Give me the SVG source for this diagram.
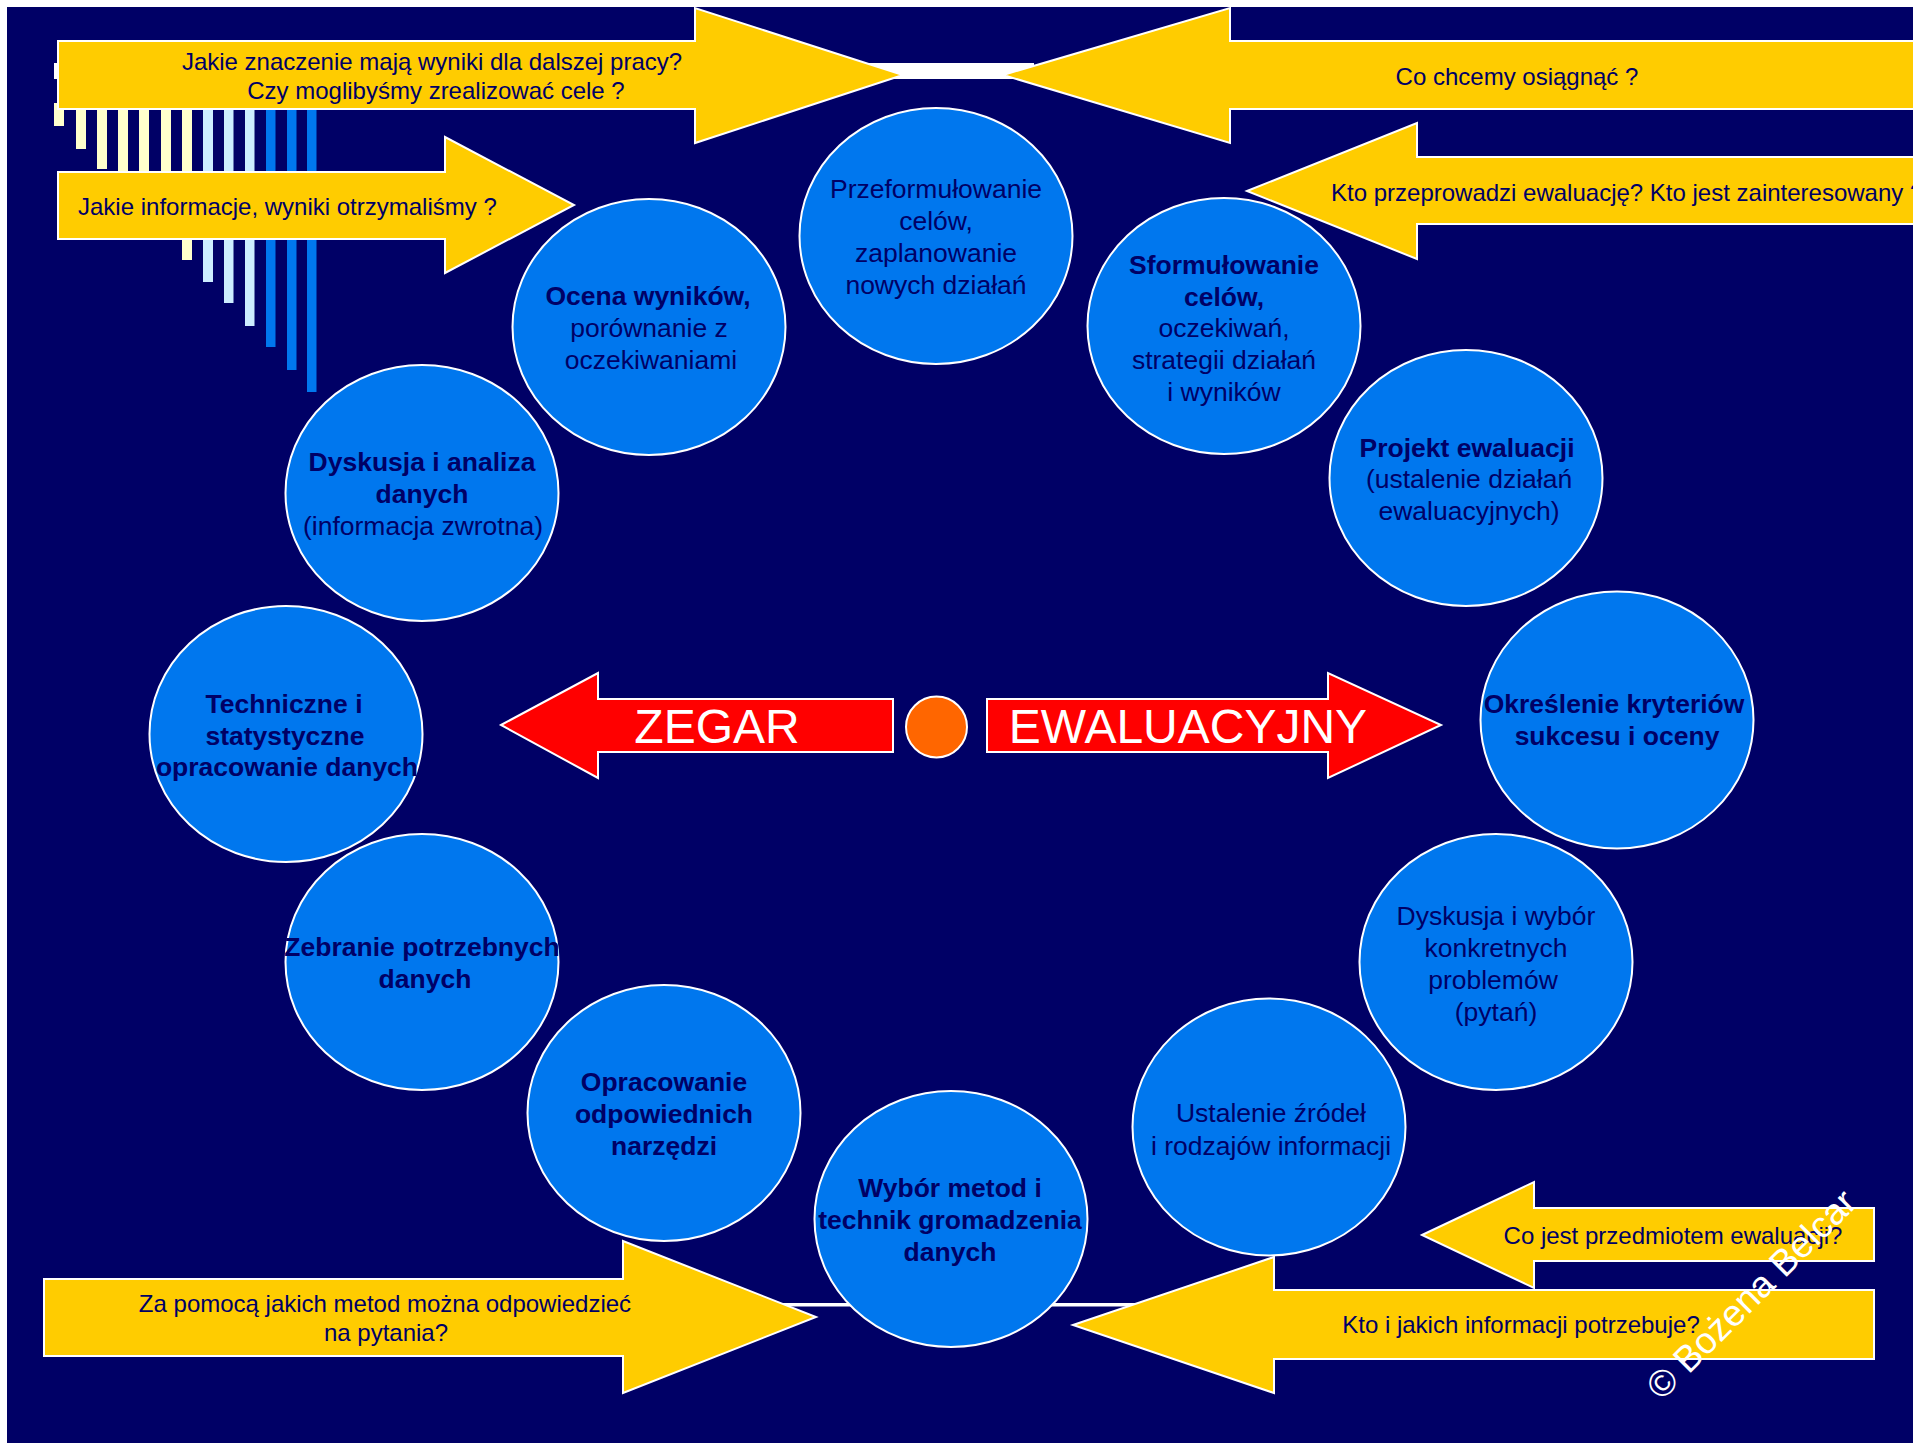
<svg xmlns="http://www.w3.org/2000/svg" width="1913" height="1443" viewBox="0 0 1913 1443">
<style>
.bg{fill:#000066}
.ya{fill:#FFCC00;stroke:#FFFFFF;stroke-width:2;stroke-linejoin:miter}
.ra{fill:#FF0000;stroke:#FFFFFF;stroke-width:2}
.c{fill:#0077EE;stroke:#FFFFFF;stroke-width:2}
.t{font-family:"Liberation Sans",Arial,sans-serif;fill:#000066;text-anchor:middle}
.ct{font-size:26.5px}
.b{font-weight:bold}
.at{font-family:"Liberation Sans",Arial,sans-serif;fill:#000066;font-size:24px}
.rt{font-family:"Liberation Sans",Arial,sans-serif;fill:#FFFFFF;font-size:48px;text-anchor:middle}
.by{fill:#FFFFCC}
.bl{fill:#CCECFF}
.bb{fill:#0077EE}
</style>
<rect x="0" y="0" width="1913" height="1443" fill="#FFFFFF"/>
<rect class="bg" x="7" y="7" width="1906" height="1436"/>

<g id="connectors">
  <rect x="54" y="63" width="980" height="16" fill="#FFFFFF"/>
  <rect x="700" y="1303" width="500" height="3.5" fill="#FFFFFF"/>
</g>

<g id="stripes">
  <rect class="by" x="54" y="103" width="10" height="23"/>
  <rect class="by" x="76" y="103" width="10" height="46"/>
  <rect class="by" x="97" y="103" width="10" height="66"/>
  <rect class="by" x="118" y="103" width="10" height="90"/>
  <rect class="by" x="139" y="103" width="10" height="112"/>
  <rect class="by" x="161" y="103" width="10" height="134"/>
  <rect class="by" x="182" y="103" width="10" height="157"/>
  <rect class="bl" x="203" y="103" width="10" height="179"/>
  <rect class="bl" x="224" y="103" width="9.5" height="200"/>
  <rect class="bl" x="245" y="103" width="9.5" height="223"/>
  <rect class="bb" x="266" y="103" width="9.5" height="244"/>
  <rect class="bb" x="287" y="103" width="9.5" height="267"/>
  <rect class="bb" x="307" y="103" width="9.5" height="289"/>
</g>

<g id="arrow-znaczenie">
  <polygon class="ya" points="58,41 695,41 695,8 903,75 695,143 695,109 58,109"/>
  <text class="at" x="432" y="70" text-anchor="middle">Jakie znaczenie mają wyniki dla dalszej pracy?</text>
  <text class="at" x="436" y="99" text-anchor="middle">Czy moglibyśmy zrealizować cele ?</text>
</g>
<g id="arrow-informacje">
  <polygon class="ya" points="58,172 445,172 445,137 574,205 445,273 445,239 58,239"/>
  <text class="at" x="78" y="215">Jakie informacje, wyniki otrzymaliśmy ?</text>
</g>
<g id="arrow-osiagnac">
  <polygon class="ya" points="1003,75 1230,8 1230,41 1920,41 1920,109 1230,109 1230,143"/>
  <text class="at" x="1517" y="85" text-anchor="middle">Co chcemy osiągnąć ?</text>
</g>
<g id="arrow-kto-przeprowadzi">
  <polygon class="ya" points="1247,191 1417,123 1417,157 1920,157 1920,224 1417,224 1417,259"/>
  <text class="at" x="1331" y="201">Kto przeprowadzi ewaluację? Kto jest zainteresowany ?</text>
</g>
<g id="arrow-metody">
  <polygon class="ya" points="44,1279 623,1279 623,1241 816,1317 623,1393 623,1356 44,1356"/>
  <text class="at" x="385" y="1312" text-anchor="middle">Za pomocą jakich metod można odpowiedzieć</text>
  <text class="at" x="386" y="1341" text-anchor="middle">na pytania?</text>
</g>
<g id="arrow-przedmiot">
  <polygon class="ya" points="1422,1235 1534,1182 1534,1208 1874,1208 1874,1261 1534,1261 1534,1288"/>
  <text class="at" x="1673" y="1244" text-anchor="middle">Co jest przedmiotem ewaluacji?</text>
</g>
<g id="arrow-kto-potrzebuje">
  <polygon class="ya" points="1073,1325 1274,1257 1274,1290 1874,1290 1874,1359 1274,1359 1274,1393"/>
  <text class="at" x="1521" y="1333" text-anchor="middle">Kto i jakich informacji potrzebuje?</text>
</g>

<g id="n1">
  <ellipse class="c" cx="936" cy="236" rx="136.5" ry="128"/>
  <text class="t ct" x="936" y="198">Przeformułowanie</text>
  <text class="t ct" x="936" y="230">celów,</text>
  <text class="t ct" x="936" y="262">zaplanowanie</text>
  <text class="t ct" x="936" y="294">nowych działań</text>
</g>
<g id="n2">
  <ellipse class="c" cx="1224" cy="326" rx="136.5" ry="128"/>
  <text class="t ct b" x="1224" y="274">Sformułowanie</text>
  <text class="t ct b" x="1224" y="306">celów,</text>
  <text class="t ct" x="1224" y="337">oczekiwań,</text>
  <text class="t ct" x="1224" y="369">strategii działań</text>
  <text class="t ct" x="1224" y="401">i wyników</text>
</g>
<g id="n3">
  <ellipse class="c" cx="649" cy="327" rx="136.5" ry="128"/>
  <text class="t ct b" x="648" y="305">Ocena wyników,</text>
  <text class="t ct" x="649" y="337">porównanie z</text>
  <text class="t ct" x="651" y="369">oczekiwaniami</text>
</g>
<g id="n4">
  <ellipse class="c" cx="1466" cy="478" rx="136.5" ry="128"/>
  <text class="t ct b" x="1467" y="457">Projekt ewaluacji</text>
  <text class="t ct" x="1469" y="488">(ustalenie działań</text>
  <text class="t ct" x="1469" y="520">ewaluacyjnych)</text>
</g>
<g id="n5">
  <ellipse class="c" cx="422" cy="493" rx="136.5" ry="128"/>
  <text class="t ct b" x="422" y="471">Dyskusja i analiza</text>
  <text class="t ct b" x="422" y="503">danych</text>
  <text class="t ct" x="423" y="535">(informacja zwrotna)</text>
</g>
<g id="n6">
  <ellipse class="c" cx="286" cy="734" rx="136.5" ry="128"/>
  <text class="t ct b" x="284" y="713">Techniczne i</text>
  <text class="t ct b" x="285" y="745">statystyczne</text>
  <text class="t ct b" x="287" y="776">opracowanie danych</text>
</g>
<g id="n7">
  <ellipse class="c" cx="1617" cy="720" rx="136.5" ry="128.5"/>
  <text class="t ct b" x="1614" y="713">Określenie kryteriów</text>
  <text class="t ct b" x="1617" y="745">sukcesu i oceny</text>
</g>
<g id="n8">
  <ellipse class="c" cx="422" cy="962" rx="136.5" ry="128"/>
  <text class="t ct b" x="422" y="956">Zebranie potrzebnych</text>
  <text class="t ct b" x="425" y="988">danych</text>
</g>
<g id="n9">
  <ellipse class="c" cx="1496" cy="962" rx="136.5" ry="128"/>
  <text class="t ct" x="1496" y="925">Dyskusja i wybór</text>
  <text class="t ct" x="1496" y="957">konkretnych</text>
  <text class="t ct" x="1493" y="989">problemów</text>
  <text class="t ct" x="1496" y="1021">(pytań)</text>
</g>
<g id="n10">
  <ellipse class="c" cx="664" cy="1113" rx="136.5" ry="128"/>
  <text class="t ct b" x="664" y="1091">Opracowanie</text>
  <text class="t ct b" x="664" y="1123">odpowiednich</text>
  <text class="t ct b" x="664" y="1155">narzędzi</text>
</g>
<g id="n11">
  <ellipse class="c" cx="1269" cy="1127" rx="136.5" ry="128.5"/>
  <text class="t ct" x="1271" y="1122">Ustalenie źródeł</text>
  <text class="t ct" x="1271" y="1155">i rodzajów informacji</text>
</g>
<g id="n12">
  <ellipse class="c" cx="951" cy="1219" rx="136.5" ry="128"/>
  <text class="t ct b" x="950" y="1197">Wybór metod i</text>
  <text class="t ct b" x="950" y="1229">technik gromadzenia</text>
  <text class="t ct b" x="950" y="1261">danych</text>
</g>

<g id="zegar">
  <polygon class="ra" points="501,725 598,673 598,699 893,699 893,752 598,752 598,778"/>
  <text class="rt" x="717" y="743">ZEGAR</text>
</g>
<g id="center-dot">
  <ellipse cx="936.5" cy="727" rx="30.5" ry="30.5" fill="#FF6600" stroke="#FFFFFF" stroke-width="2"/>
</g>
<g id="ewaluacyjny">
  <polygon class="ra" points="987,699 1328,699 1328,673 1441,725 1328,778 1328,752 987,752"/>
  <text class="rt" x="1188" y="743">EWALUACYJNY</text>
</g>

<g id="watermark">
  <text x="1751" y="1307" transform="rotate(-45 1751 1294)" font-family="'Liberation Sans',Arial,sans-serif" font-size="37" fill="#FFFFFF" text-anchor="middle">© Bożena Belcar</text>
</g>
</svg>
